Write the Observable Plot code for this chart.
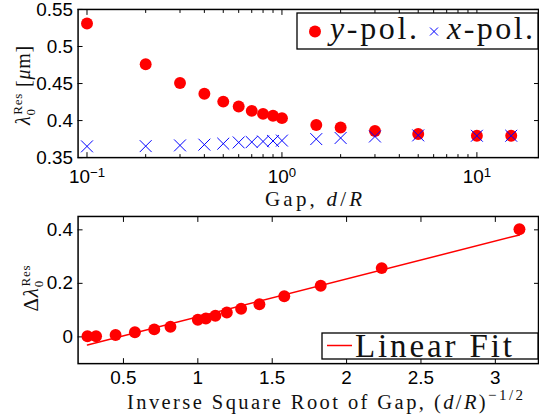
<!DOCTYPE html>
<html><head><meta charset="utf-8">
<script src="https://cdn.jsdelivr.net/npm/d3@7"></script>
<script src="https://cdn.jsdelivr.net/npm/@observablehq/plot@0.6"></script>
<style>
body{margin:0;background:#fff}
#wrap{position:relative;width:539px;height:419px;overflow:hidden;background:#fff}
#top,#bot,#ovl{position:absolute;left:0}
#top{top:0} #bot{top:210px} #ovl{top:0;pointer-events:none}
</style></head><body>
<div id="wrap"><div id="top"></div><div id="bot"></div>
<svg id="ovl" width="539" height="419" xmlns="http://www.w3.org/2000/svg"></svg></div>
<script>
// ---- data ----
const gap = [0.1, 0.2, 0.3, 0.4, 0.5, 0.6, 0.7, 0.8, 0.9, 1.0, 1.5, 2, 3, 5, 10, 15];
const yPol = [0.531, 0.476, 0.4507, 0.4363, 0.4256, 0.4189, 0.4131, 0.409, 0.4064, 0.4033, 0.394, 0.3907, 0.386, 0.382, 0.3795, 0.3795];
const xPol = [0.3652, 0.3655, 0.3665, 0.3675, 0.3688, 0.3705, 0.371, 0.3718, 0.3725, 0.373, 0.375, 0.3765, 0.3785, 0.380, 0.3795, 0.3795];
const invSqrtGap = [3.162, 2.236, 1.826, 1.581, 1.414, 1.291, 1.195, 1.118, 1.054, 1.0, 0.816, 0.707, 0.577, 0.447, 0.316, 0.258];
const deltaLambda = [0.402, 0.257, 0.191, 0.152, 0.122, 0.105, 0.091, 0.079, 0.069, 0.064, 0.038, 0.028, 0.017, 0.007, 0.002, 0.002];
const fitX = [0.258, 3.162];
const fitY = [-0.030, 0.381];
const topYTicks = [0.35, 0.4, 0.45, 0.5, 0.55];
const topXMajor = [0.1, 1, 10];
const topXMinor = [0.2, 0.3, 0.4, 0.5, 0.6, 0.7, 0.8, 0.9, 2, 3, 4, 5, 6, 7, 8, 9];
const botXTicks = [0.5, 1, 1.5, 2, 2.5, 3];
const botYTicks = [0, 0.2, 0.4];

const topData = gap.map((g, i) => ({g, y: yPol[i], x: xPol[i]}));
const botData = invSqrtGap.map((v, i) => ({v, d: deltaLambda[i]}));
const fitData = fitX.map((v, i) => ({v, d: fitY[i]}));

const empty = () => "";
const FS = 19;
const style = {fontFamily: "'Liberation Sans', Arial, sans-serif", fontSize: FS + "px", background: "transparent"};

const topPlot = Plot.plot({
  width: 542, height: 210, marginTop: 9, marginBottom: 52, marginLeft: 78, marginRight: 1,
  style,
  x: {type: "log", domain: [0.09, 20.7]},
  y: {domain: [0.35, 0.55]},
  marks: [
    Plot.frame({stroke: "black", strokeWidth: 1.5}),
    Plot.axisY({ticks: topYTicks, tickSize: 0, tickPadding: 5, fontSize: FS, dy: 0.5, tickFormat: d => String(d), label: null}),
    Plot.axisY({ticks: topYTicks, tickSize: -5, tickFormat: empty, label: null}),
    Plot.axisY({anchor: "right", ticks: topYTicks, tickSize: -5, tickFormat: empty, label: null}),
    Plot.axisX({ticks: topXMajor, tickSize: 0, tickPadding: 12, fontSize: FS, tickFormat: d => "10|" + Math.round(Math.log10(d)), label: null}),
    Plot.axisX({ticks: topXMajor, tickSize: -5, tickFormat: empty, label: null}),
    Plot.axisX({ticks: topXMinor, tickSize: -3, tickFormat: empty, label: null}),
    Plot.axisX({anchor: "top", ticks: topXMajor, tickSize: -5, tickFormat: empty, label: null}),
    Plot.axisX({anchor: "top", ticks: topXMinor, tickSize: -3, tickFormat: empty, label: null}),
    Plot.dot(topData, {x: "g", y: "y", r: 6, fill: "#ff0000"}),
    Plot.dot(topData, {x: "g", y: "x", r: 5.5, symbol: "times", stroke: "#0000ff", strokeWidth: 1})
  ]
});

d3.select(topPlot).selectAll('g[aria-label="x-axis tick label"] text').each(function () {
  const t = this.textContent;
  if (t.includes("|")) {
    const e = t.split("|")[1].replace("-", "\u2212");
    this.textContent = "";
    d3.select(this).append("tspan").text("10");
    d3.select(this).append("tspan").attr("dy", "-0.42em").attr("font-size", "0.7em").text(e);
  }
});
document.getElementById("top").append(topPlot);

const botPlot = Plot.plot({
  width: 542, height: 209, marginTop: 6, marginBottom: 55, marginLeft: 78, marginRight: 1,
  style,
  x: {domain: [0.195, 3.29]},
  y: {domain: [-0.1, 0.45]},
  marks: [
    Plot.frame({stroke: "black", strokeWidth: 1.5}),
    Plot.axisY({ticks: botYTicks, tickSize: 0, tickPadding: 5, fontSize: FS, tickFormat: d => String(d), label: null}),
    Plot.axisY({ticks: botYTicks, tickSize: -5, tickFormat: empty, label: null}),
    Plot.axisY({anchor: "right", ticks: botYTicks, tickSize: -5, tickFormat: empty, label: null}),
    Plot.axisX({ticks: botXTicks, tickSize: 0, tickPadding: 7, fontSize: FS, tickFormat: d => String(d), label: null}),
    Plot.axisX({ticks: botXTicks, tickSize: -5, tickFormat: empty, label: null}),
    Plot.axisX({anchor: "top", ticks: botXTicks, tickSize: -5, tickFormat: empty, label: null}),
    Plot.line(fitData, {x: "v", y: "d", stroke: "#ff0000", strokeWidth: 1.5}),
    Plot.dot(botData, {x: "v", y: "d", r: 6, fill: "#ff0000"})
  ]
});
document.getElementById("bot").append(botPlot);

// ---- overlay: axis titles and legends ----
const ov = d3.select("#ovl");
const serif = '"Liberation Serif","Times New Roman",serif';

function addText(parent, parts, attrs) {
  const t = parent.append("text").style("font-family", serif).attr("fill", "#111");
  for (const [k, v] of Object.entries(attrs)) t.attr(k, v);
  for (const p of parts) {
    const s = t.append("tspan").text(p.t);
    if (p.i) s.style("font-style", "italic");
    if (p.fs) s.attr("font-size", p.fs);
    if (p.dy) s.attr("dy", p.dy);
    if (p.dx) s.attr("dx", p.dx);
  }
  return t;
}

// x labels
addText(ov, [{t: "Gap, "}, {t: "d", i: 1}, {t: "/"}, {t: "R", i: 1}],
  {x: 265, y: 206, "font-size": 21, textLength: 97, lengthAdjust: "spacing"});
addText(ov, [{t: "Inverse Square Root of Gap, ("}, {t: "d", i: 1}, {t: "/"}, {t: "R", i: 1}, {t: ")"},
  {t: "\u22121/2", fs: 15, dy: -9}],
  {x: 127, y: 409, "font-size": 20.5, textLength: 396, lengthAdjust: "spacing"});

// y labels (rotated)
addText(ov, [{t: "\u03bb", i: 1}, {t: "0", fs: 13, dy: 5}, {t: "Res", fs: 13, dx: -6.5, dy: -13},
  {t: " [", dy: 8}, {t: "\u03bc", i: 1}, {t: "m]"}],
  {transform: "translate(30,85) rotate(-90)", "text-anchor": "middle", "font-size": 20, "letter-spacing": 0.8});
addText(ov, [{t: "\u0394"}, {t: "\u03bb", i: 1}, {t: "0", fs: 13, dy: 5}, {t: "Res", fs: 13, dx: -6.5, dy: -13}],
  {transform: "translate(38,288) rotate(-90)", "text-anchor": "middle", "font-size": 21, "letter-spacing": 0.8});

// top legend
const lg1 = ov.append("g");
lg1.append("rect").attr("x", 297).attr("y", 13).attr("width", 241).attr("height", 36)
  .attr("fill", "white").attr("stroke", "black").attr("stroke-width", 1.3);
lg1.append("circle").attr("cx", 315).attr("cy", 31.5).attr("r", 6).attr("fill", "#ff0000");
addText(lg1, [{t: "y", i: 1}, {t: "-pol."}], {x: 330, y: 39, "font-size": 32, textLength: 87, lengthAdjust: "spacing"});
lg1.append("path").attr("d", "M430,27.5l8,8M430,35.5l8,-8").attr("stroke", "#0000ff").attr("stroke-width", 1);
addText(lg1, [{t: "x", i: 1}, {t: "-pol."}], {x: 447, y: 39, "font-size": 32, textLength: 86, lengthAdjust: "spacing"});

// bottom legend
const lg2 = ov.append("g");
lg2.append("rect").attr("x", 322).attr("y", 333).attr("width", 216).attr("height", 26)
  .attr("fill", "white").attr("stroke", "black").attr("stroke-width", 1.3);
lg2.append("line").attr("x1", 327).attr("x2", 352).attr("y1", 345.5).attr("y2", 345.5)
  .attr("stroke", "#ff0000").attr("stroke-width", 1.5);
addText(lg2, [{t: "Linear Fit"}], {x: 355, y: 357, "font-size": 33, textLength: 157, lengthAdjust: "spacing"});
</script>
</body></html>
